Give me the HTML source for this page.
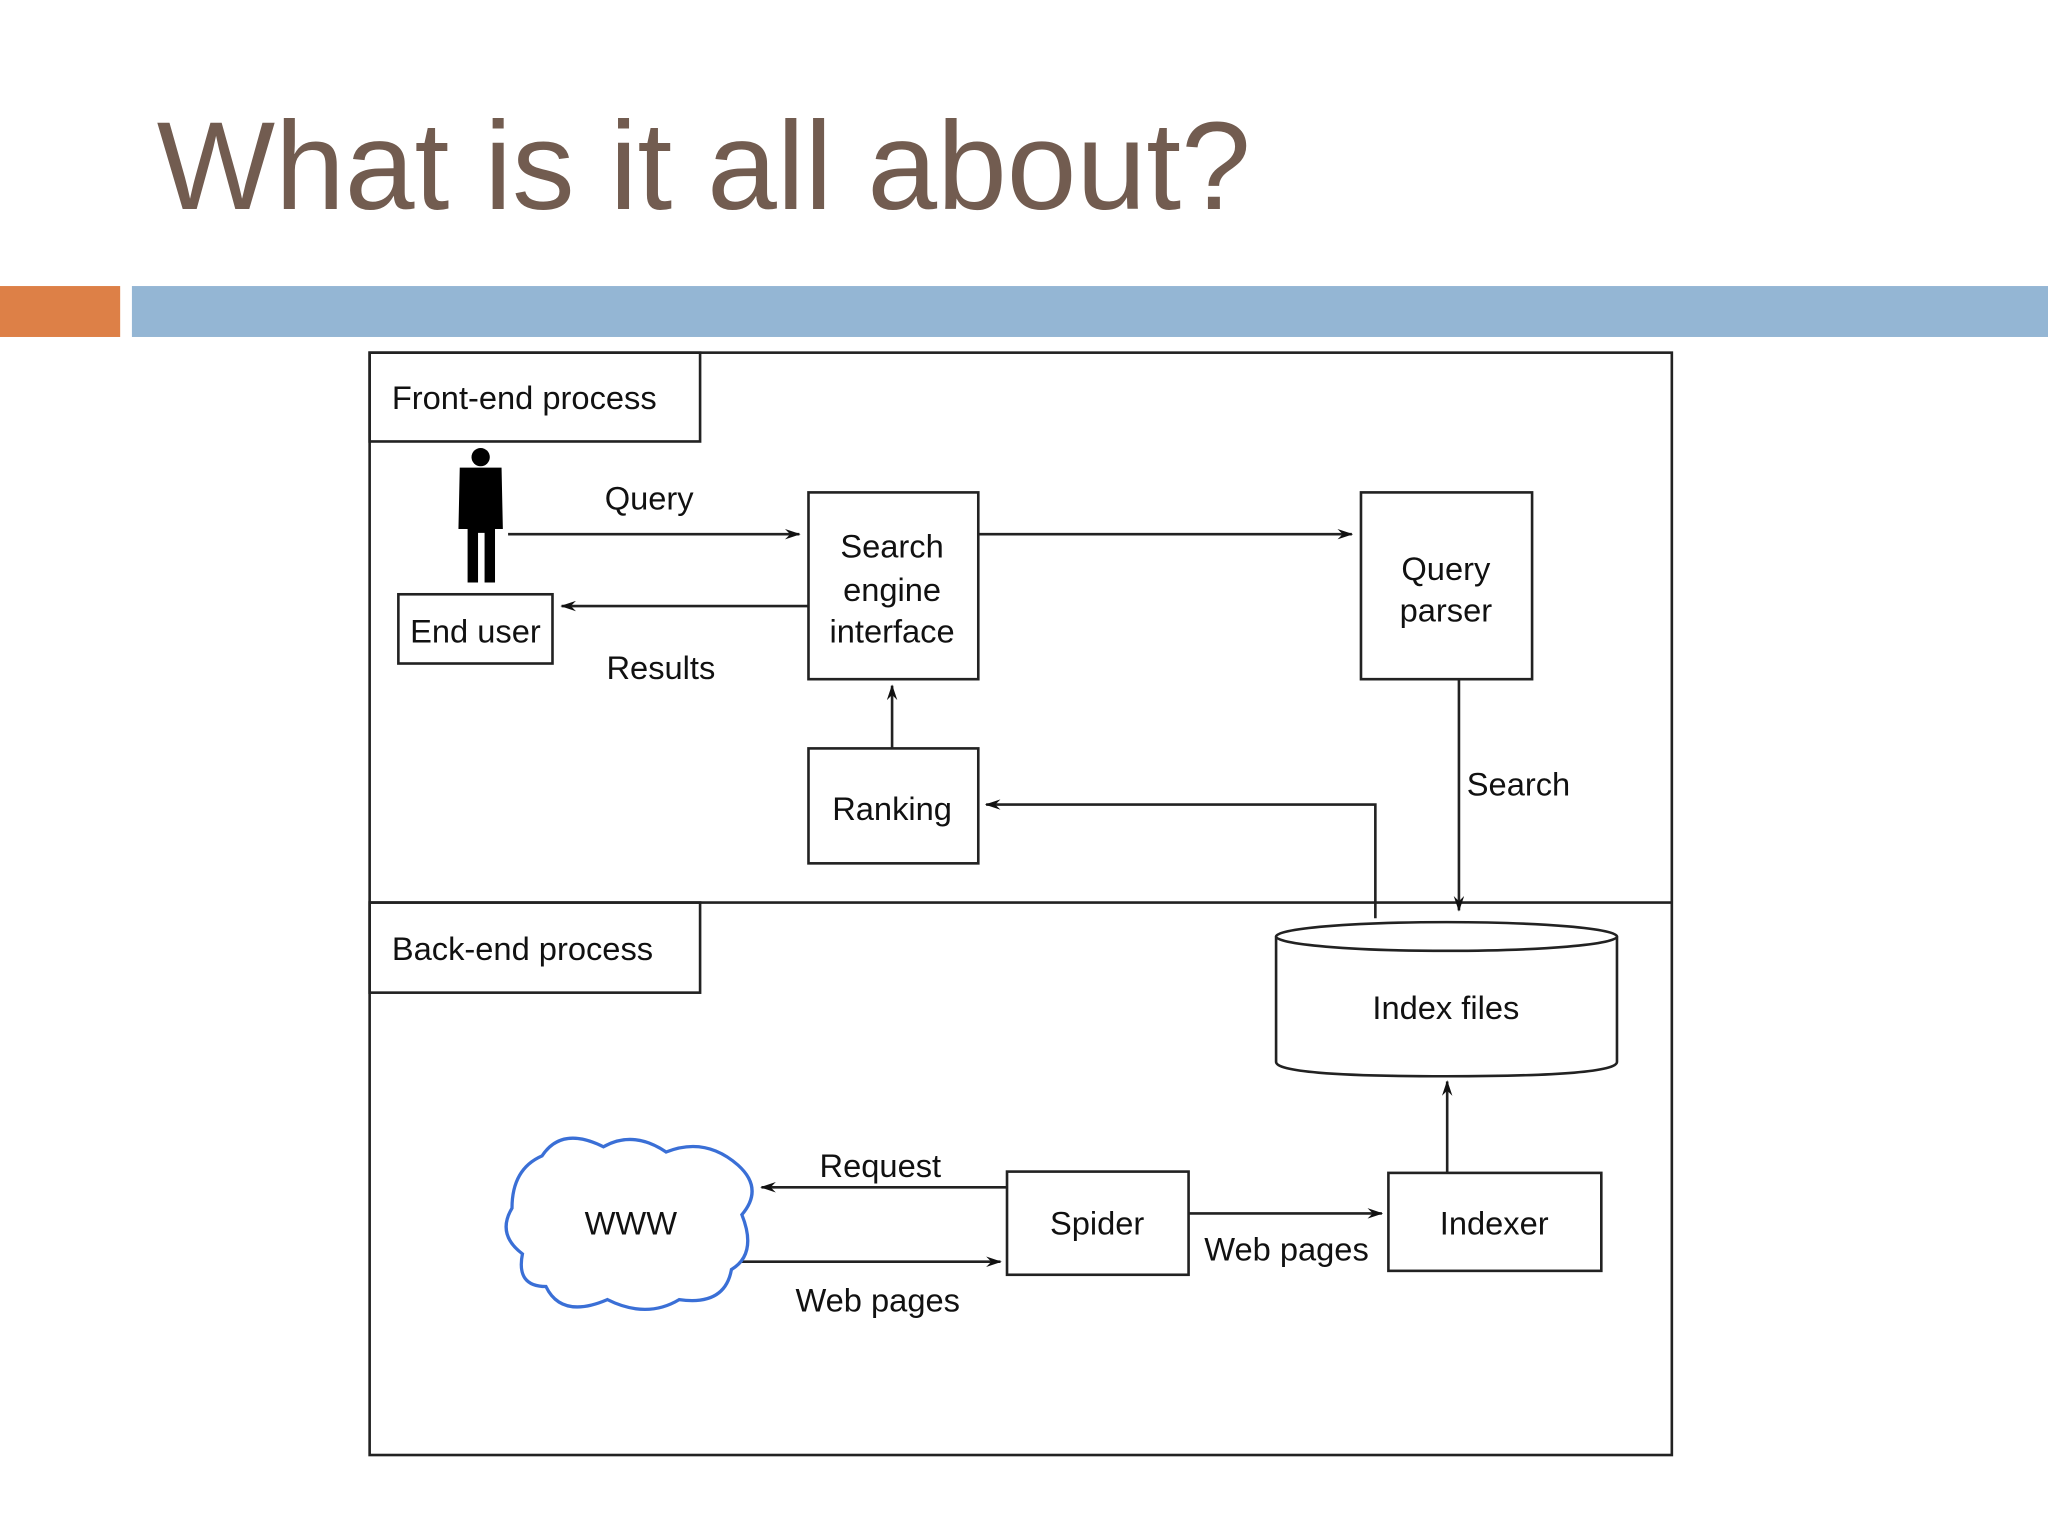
<!DOCTYPE html>
<html><head><style>html,body{margin:0;padding:0;background:#fff;}svg{display:block}</style></head>
<body>
<svg width="2048" height="1536" viewBox="0 0 1568 1176" xmlns="http://www.w3.org/2000/svg" font-family="Liberation Sans, Arial, sans-serif">
<defs><marker id="a" markerWidth="12" markerHeight="8" refX="11" refY="4" orient="auto" markerUnits="userSpaceOnUse"><path d="M0,0 L12,4 L0,8 L4,4 Z" fill="#111"/></marker></defs>
<rect width="1568" height="1176" fill="#fff"/>
<text x="120" y="160" font-size="96" fill="#725c50">What is it all about?</text>
<rect x="0" y="219" width="92" height="39" fill="#dd8047"/>
<rect x="101" y="219" width="1467" height="39" fill="#94b6d4"/>
<g fill="none" stroke="#222" stroke-width="2">
<rect x="283" y="270" width="997" height="844"/>
<line x1="283" y1="691" x2="1280" y2="691"/>
<rect x="283" y="270" width="253" height="68"/>
<rect x="283" y="691" width="253" height="69"/>
<rect x="305" y="455" width="118" height="53"/>
<rect x="619" y="377" width="130" height="143"/>
<rect x="1042" y="377" width="131" height="143"/>
<rect x="619" y="573" width="130" height="88"/>
<rect x="771" y="897" width="139" height="79"/>
<rect x="1063" y="898" width="163" height="75"/>
<path d="M977,717 L977,813 Q977,824 1107,824 Q1238,824 1238,813 L1238,717"/>
<ellipse cx="1107.5" cy="717" rx="130.5" ry="11"/>
<line x1="389" y1="409" x2="612" y2="409" marker-end="url(#a)"/>
<line x1="619" y1="464" x2="430" y2="464" marker-end="url(#a)"/>
<line x1="749" y1="409" x2="1035" y2="409" marker-end="url(#a)"/>
<line x1="683" y1="573" x2="683" y2="525" marker-end="url(#a)"/>
<line x1="1117" y1="520" x2="1117" y2="697" marker-end="url(#a)"/>
<polyline points="1053,703 1053,616 755,616" marker-end="url(#a)"/>
<line x1="1108" y1="898" x2="1108" y2="828" marker-end="url(#a)"/>
<line x1="771" y1="909" x2="583" y2="909" marker-end="url(#a)"/>
<line x1="566" y1="966" x2="766" y2="966" marker-end="url(#a)"/>
<line x1="910" y1="929" x2="1058" y2="929" marker-end="url(#a)"/>
</g>
<path d="M415,885 Q430,862 462,878 Q485,865 510,882 Q540,870 565,892 Q585,910 568,930 Q580,960 560,972 Q555,1000 520,995 Q495,1010 465,995 Q430,1010 418,985 Q395,985 400,960 Q380,945 392,925 Q392,895 415,885 Z" fill="#fff" stroke="#3a6fd6" stroke-width="2.5"/>
<g fill="#000">
<circle cx="368" cy="350" r="7"/>
<path d="M352,358 L384,358 L385,405 L379,405 L379,446 L371,446 L371,408 L366,408 L366,446 L358,446 L358,405 L351,405 Z"/>
</g>
<g font-size="25" fill="#111">
<text x="300" y="313">Front-end process</text>
<text x="300" y="735">Back-end process</text>
<text x="364" y="492" text-anchor="middle">End user</text>
<text x="497" y="390" text-anchor="middle">Query</text>
<text x="506" y="520" text-anchor="middle">Results</text>
<text x="683" y="427" text-anchor="middle">Search</text>
<text x="683" y="460" text-anchor="middle">engine</text>
<text x="683" y="492" text-anchor="middle">interface</text>
<text x="1107" y="444" text-anchor="middle">Query</text>
<text x="1107" y="476" text-anchor="middle">parser</text>
<text x="683" y="628" text-anchor="middle">Ranking</text>
<text x="1123" y="609">Search</text>
<text x="1107" y="780" text-anchor="middle">Index files</text>
<text x="483" y="945" text-anchor="middle">WWW</text>
<text x="674" y="901" text-anchor="middle">Request</text>
<text x="672" y="1004" text-anchor="middle">Web pages</text>
<text x="840" y="945" text-anchor="middle">Spider</text>
<text x="985" y="965" text-anchor="middle">Web pages</text>
<text x="1144" y="945" text-anchor="middle">Indexer</text>
</g>
</svg>
</body></html>
